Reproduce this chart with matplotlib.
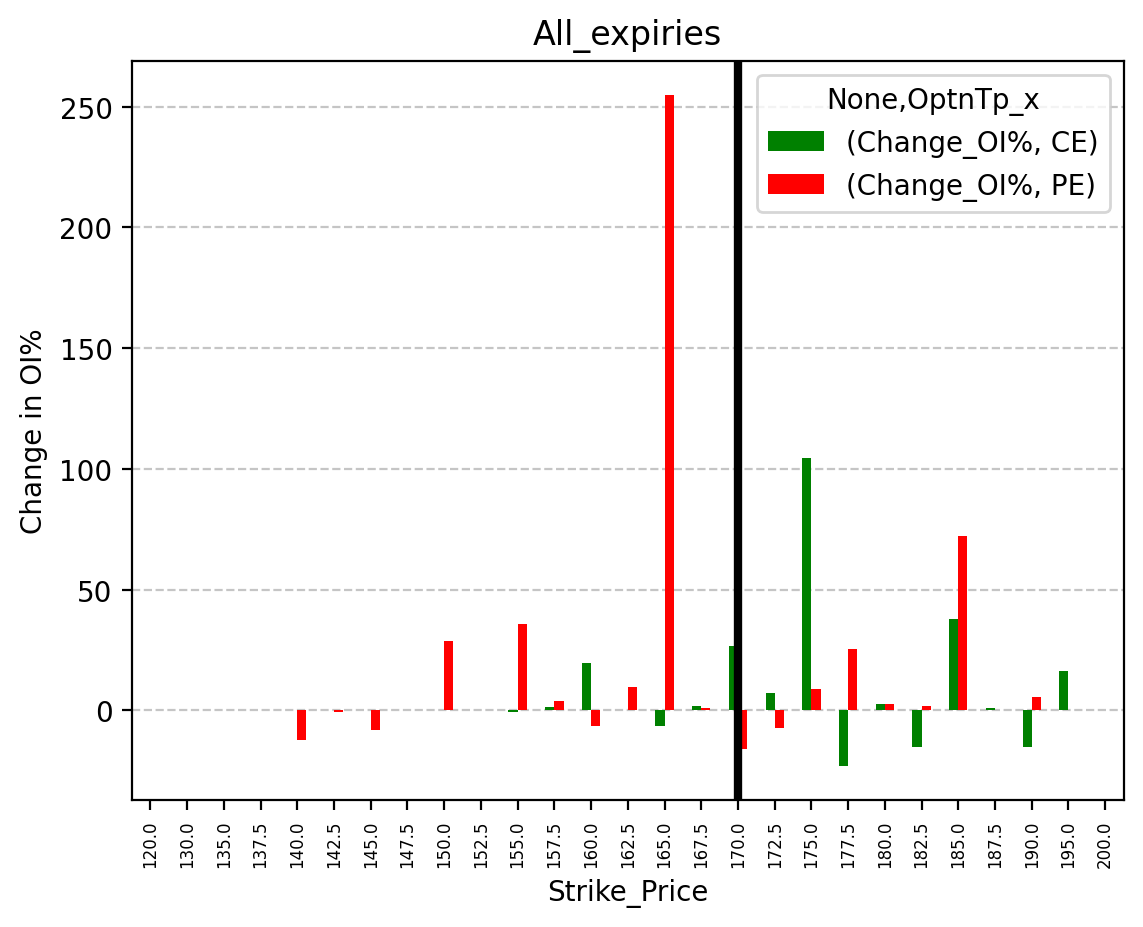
import matplotlib
matplotlib.use('Agg')
from matplotlib import pyplot as plt
import numpy as np
import pandas as pd

# strike prices (x categories)
strikes = [120.0, 130.0, 135.0, 137.5, 140.0, 142.5, 145.0, 147.5, 150.0, 152.5,
           155.0, 157.5, 160.0, 162.5, 165.0, 167.5, 170.0, 172.5, 175.0, 177.5,
           180.0, 182.5, 185.0, 187.5, 190.0, 195.0, 200.0]

# change in OI% for calls
ce_change = [np.nan, np.nan, np.nan, np.nan, np.nan, np.nan, np.nan, np.nan, np.nan, np.nan,
             -0.8, 1.2, 19.5, np.nan, -6.6, 2.0, 26.5, 7.0, 104.7, -23.2,
             2.5, -15.3, 38.0, 0.8, -15.3, 16.1, np.nan]

# change in OI% for puts
pe_change = [np.nan, np.nan, np.nan, np.nan, -12.4, -0.8, -8.3, np.nan, 28.6, 0.3,
             35.6, 3.7, -6.6, 9.5, 255.0, 0.8, -16.1, -7.4, 8.7, 25.3,
             2.5, 1.6, 72.0, np.nan, 5.4, np.nan, np.nan]

current_strike = 170.0

cols = pd.MultiIndex.from_tuples([('Change_OI%', 'CE'), ('Change_OI%', 'PE')],
                                 names=[None, 'OptnTp_x'])
df = pd.DataFrame(np.column_stack([ce_change, pe_change]), index=strikes, columns=cols)
df.index.name = 'Strike_Price'

fig = plt.figure(figsize=(1143 / 200, 928 / 200), dpi=200)
ax = fig.add_axes([0.1155, 0.1369, 0.8675, 0.7963])

df.plot.bar(ax=ax, color=['green', 'red'])

# spot line
ax.axvline(strikes.index(current_strike), color='black', linewidth=3)

ax.grid(axis='y', linestyle='--', color='gray', alpha=0.45)
ax.set_axisbelow(True)
ax.set_title('All_expiries')
ax.set_ylabel('Change in OI%')
ax.set_xlabel('Strike_Price')
ax.tick_params(axis='x', labelsize=6, rotation=90)
ax.legend(title='None,OptnTp_x', loc='upper right')

fig.savefig('out.png', dpi=200)
